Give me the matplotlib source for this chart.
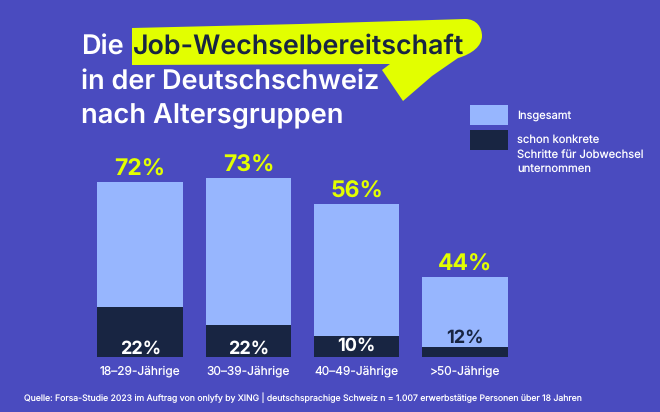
import matplotlib
matplotlib.use("Agg")
import matplotlib.pyplot as plt
from matplotlib.path import Path
from matplotlib.patches import PathPatch, Rectangle

# Data (bar heights as drawn; the drawn heights differ from the printed labels)
categories = ["18–29-Jährige", "30–39-Jährige", "40–49-Jährige", ">50-Jährige"]
total_heights = [71.6, 73.0, 62.4, 32.7]
concrete_heights = [20.6, 13.1, 8.6, 4.1]
total_labels = ["72%", "73%", "56%", "44%"]
concrete_labels = ["22%", "22%", "10%", "12%"]

BG = "#4A4BBF"
LIGHT = "#97B6FE"
DARK = "#182542"
YELLOW = "#E2FF00"
WHITE = "#FFFFFF"
FONT = ["Inter", "DejaVu Sans"]
plt.rcParams["font.family"] = FONT
plt.rcParams["text.hinting"] = "no_hinting"
plt.rcParams["text.hinting_factor"] = 1

W, H = 660, 412
fig = plt.figure(figsize=(W / 100, H / 100), dpi=100, facecolor=BG)

# overlay in pixel coordinates for title, highlight, legend, notes
ov = fig.add_axes([0, 0, 1, 1], zorder=1)
ov.set_xlim(0, W)
ov.set_ylim(H, 0)
ov.axis("off")

# bar axes
px_per_unit = 2.45
left, right = 86, 519
bottom, top = 357, 100
ax = fig.add_axes([left / W, 1 - bottom / H, (right - left) / W, (bottom - top) / H], zorder=2)
ax.patch.set_alpha(0)
ax.set_xlim(-0.5, 3.5)
ax.set_ylim(0, (bottom - top) / px_per_unit)
xs = list(range(len(categories)))
bw = 0.79
ax.bar(xs, total_heights, width=bw, color=LIGHT)
ax.bar(xs, concrete_heights, width=bw, color=DARK)
for s in ax.spines.values():
    s.set_visible(False)
ax.set_yticks([])
ax.set_xticks(xs)
ax.set_xticklabels(categories, fontsize=8.6, color=WHITE)
ax.tick_params(axis="x", length=0, pad=6)

for i, (t, tl) in enumerate(zip(total_heights, total_labels)):
    ax.annotate(tl, (i, t), xytext=(0, 1), textcoords="offset points", ha="center", va="bottom",
                fontsize=16.5, fontweight="bold", color=YELLOW)
offsets = [0, 0, 1.5, 7.5]
for i, (c, cl) in enumerate(zip(concrete_heights, concrete_labels)):
    col = DARK if i == 3 else WHITE
    ax.annotate(cl, (i, 0), xytext=(0, offsets[i]),
                textcoords="offset points", ha="center", va="bottom",
                fontsize=13, fontweight="bold", color=col)

# highlight shape
verts = [(132, 28), (300, 24), (465, 19), (477, 19), (482, 28), (482, 36),
         (482, 46), (472, 54), (458, 58), (432, 76), (403, 101),
         (382, 70), (390, 64), (132, 65), (132, 28)]
codes = [Path.MOVETO, Path.LINETO, Path.LINETO, Path.CURVE4, Path.CURVE4, Path.CURVE4,
         Path.CURVE4, Path.CURVE4, Path.CURVE4, Path.LINETO, Path.LINETO,
         Path.LINETO, Path.LINETO, Path.LINETO, Path.CLOSEPOLY]
ov.add_patch(PathPatch(Path(verts, codes), facecolor=YELLOW, edgecolor="none"))

# title
ts = 19.5
ov.text(81, 47, "Die", fontsize=ts, color=WHITE, va="center", fontweight="semibold")
ov.text(133, 47, "Job-Wechselbereitschaft", fontsize=19.3, color=DARK, va="center", fontweight="semibold")
ov.text(81, 82, "in der Deutschschweiz", fontsize=ts, color=WHITE, va="center", fontweight="semibold")
ov.text(81, 116, "nach Altersgruppen", fontsize=19.7, color=WHITE, va="center", fontweight="semibold")

# legend
ov.add_patch(Rectangle((470, 105), 38, 20, facecolor=LIGHT, edgecolor="none"))
ov.add_patch(Rectangle((470, 130), 38, 20, facecolor=DARK, edgecolor="none"))
ov.text(517, 116, "Insgesamt", fontsize=8, color=WHITE, va="center")
for y, line in zip([140, 155, 170], ["schon konkrete", "Schritte für Jobwechsel", "unternommen"]):
    ov.text(517, y, line, fontsize=8.1, color=WHITE, va="center")

# source
ov.text(24, 398, "Quelle: Forsa-Studie 2023 im Auftrag von onlyfy by XING | deutschsprachige Schweiz n = 1.007 "
        "erwerbstätige Personen über 18 Jahren", fontsize=6.25, color=WHITE, va="center")

fig.savefig("out.png", dpi=100, facecolor=BG)
